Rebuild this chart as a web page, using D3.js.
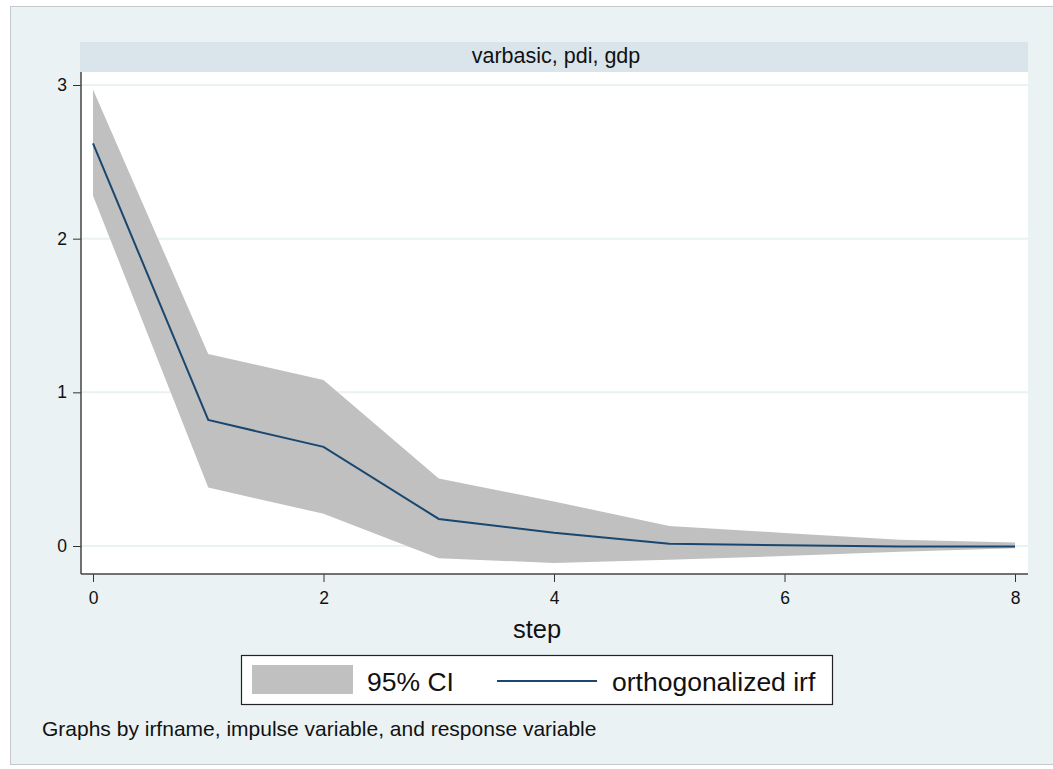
<!DOCTYPE html>
<html><head><meta charset="utf-8">
<script src="https://cdn.jsdelivr.net/npm/d3@7"></script>
<style>body{margin:0;background:#fff;}svg{display:block;font-family:"Liberation Sans",Arial,sans-serif;}</style>
</head><body><svg id="c" width="1053" height="769"></svg>
<script>
const steps = [0,1,2,3,4,5,6,7,8];
const irf   = [2.62, 0.82, 0.645, 0.176, 0.087, 0.015, 0.005, -0.003, -0.004];
const upper = [2.97, 1.25, 1.08, 0.44, 0.29, 0.13, 0.085, 0.04, 0.022];
const lower = [2.28, 0.38, 0.21, -0.08, -0.11, -0.09, -0.065, -0.037, -0.015];
const yTicks = [0,1,2,3];
const xTicks = [0,2,4,6,8];
const headerText = "varbasic, pdi, gdp";
const xTitle = "step";
const legendLabels = ["95% CI","orthogonalized irf"];
const noteText = "Graphs by irfname, impulse variable, and response variable";

const svg = d3.select("#c");
const bg = "#eaf2f3";
svg.append("rect").attr("x",0).attr("y",0).attr("width",1053).attr("height",769).attr("fill","#fff");
svg.append("rect").attr("x",10.5).attr("y",6.5).attr("width",1060).attr("height",758).attr("fill",bg).attr("stroke","#c4c8ca").attr("stroke-width",1);

const plot = {l:81, r:1028, t:72, b:574};
const x = d3.scaleLinear().domain([0,8]).range([93,1015]);
const y = d3.scaleLinear().domain([0,3]).range([546,85]);

// header
svg.append("rect").attr("x",80).attr("y",42).attr("width",948).attr("height",30).attr("fill","#dae5eb");
svg.append("text").attr("x",556).attr("y",63).attr("text-anchor","middle").attr("font-size",21.5).attr("fill","#111").text(headerText);

// plot area
svg.append("rect").attr("x",plot.l).attr("y",plot.t).attr("width",plot.r-plot.l).attr("height",plot.b-plot.t).attr("fill","#fff");

// gridlines
svg.append("g").selectAll("line").data(yTicks).join("line")
  .attr("x1",plot.l).attr("x2",plot.r).attr("y1",d=>y(d)).attr("y2",d=>y(d))
  .attr("stroke","#eaf2f3").attr("stroke-width",2);

// CI band
const area = d3.area().x((d,i)=>x(steps[i])).y0((d,i)=>y(lower[i])).y1((d,i)=>y(upper[i]));
svg.append("path").datum(steps).attr("d",area).attr("fill","#c0c0c0");

// irf line
const line = d3.line().x((d,i)=>x(steps[i])).y((d,i)=>y(irf[i]));
svg.append("path").datum(steps).attr("d",line).attr("fill","none").attr("stroke","#1a476f").attr("stroke-width",2);

// axes
const yAxis = d3.axisLeft(y).tickValues(yTicks).tickSize(8).tickPadding(6).tickFormat(d3.format("d"));
const gy = svg.append("g").attr("transform",`translate(${plot.l},0)`).call(yAxis);
gy.select(".domain").remove();
gy.append("line").attr("x1",0).attr("x2",0).attr("y1",plot.t).attr("y2",plot.b).attr("stroke","#444").attr("stroke-width",1.5);
gy.selectAll(".tick line").attr("stroke","#333");
gy.selectAll(".tick text").attr("font-size",17.5).attr("fill","#111").attr("font-family","Liberation Sans, Arial, sans-serif");

const xAxis = d3.axisBottom(x).tickValues(xTicks).tickSize(8).tickPadding(10).tickFormat(d3.format("d"));
const gx = svg.append("g").attr("transform",`translate(0,${plot.b})`).call(xAxis);
gx.select(".domain").remove();
gx.append("line").attr("x1",plot.l).attr("x2",plot.r).attr("y1",0).attr("y2",0).attr("stroke","#444").attr("stroke-width",1.5);
gx.selectAll(".tick line").attr("stroke","#333");
gx.selectAll(".tick text").attr("font-size",17.5).attr("fill","#111").attr("font-family","Liberation Sans, Arial, sans-serif");

svg.append("text").attr("x",537).attr("y",638).attr("text-anchor","middle").attr("font-size",25.5).attr("fill","#111").text(xTitle);

// legend
svg.append("rect").attr("x",241.5).attr("y",655.5).attr("width",591).attr("height",49).attr("fill","#fff").attr("stroke","#222").attr("stroke-width",1.2);
svg.append("rect").attr("x",252).attr("y",665).attr("width",101).attr("height",29).attr("fill","#c0c0c0");
svg.append("text").attr("x",367).attr("y",691).attr("font-size",26.5).attr("fill","#111").text(legendLabels[0]);
svg.append("line").attr("x1",497).attr("x2",597).attr("y1",681).attr("y2",681).attr("stroke","#1a476f").attr("stroke-width",2);
svg.append("text").attr("x",612).attr("y",691).attr("font-size",26.5).attr("fill","#111").text(legendLabels[1]);

svg.append("text").attr("x",42).attr("y",736).attr("font-size",21).attr("fill","#111").text(noteText);
</script></body></html>
